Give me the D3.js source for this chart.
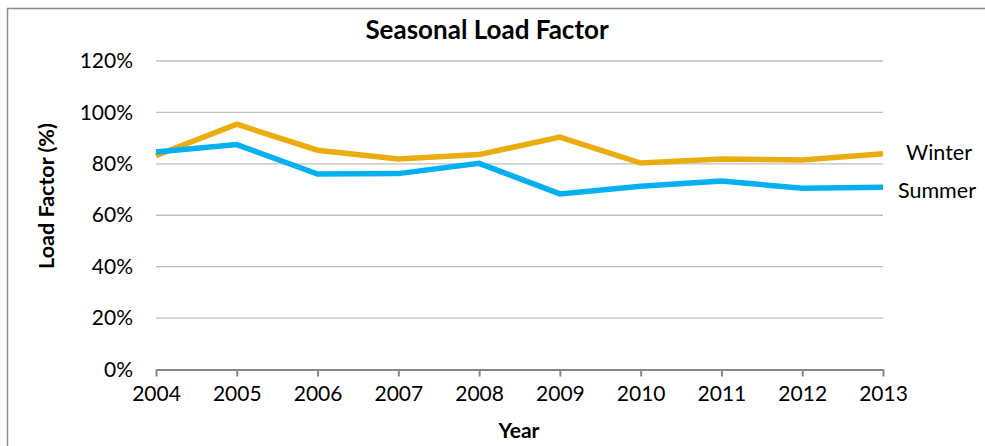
<!DOCTYPE html>
<html>
<head>
<meta charset="utf-8">
<script src="https://cdn.jsdelivr.net/npm/d3@7"></script>
<style>
  html, body { margin: 0; padding: 0; background: #fff; }
  svg { display: block; font-family: Lato, "Open Sans", sans-serif; }
</style>
</head>
<body>
<svg id="chart" width="985" height="446"></svg>
<script>
// Seasonal load factor by year
const years = [2004, 2005, 2006, 2007, 2008, 2009, 2010, 2011, 2012, 2013];
const winter = [83.2, 95.4, 85.3, 81.9, 83.6, 90.4, 80.3, 81.9, 81.5, 83.9];
const summer = [84.6, 87.5, 76.0, 76.2, 80.2, 68.3, 71.3, 73.3, 70.5, 70.9];
const yTicks = [0, 20, 40, 60, 80, 100, 120];

const series = [
  { name: "Winter", values: winter, color: "#EBAC0E" },
  { name: "Summer", values: summer, color: "#00B0F0" }
];

const svg = d3.select("#chart");
const margin = { left: 156, right: 102, top: 61, bottom: 76.5 };
const W = 985, H = 446;

const x = d3.scalePoint().domain(years).range([margin.left, W - margin.right]);
const y = d3.scaleLinear().domain([0, 120]).range([H - margin.bottom, margin.top]);

// outer frame
svg.append("rect")
  .attr("x", 7.5).attr("y", 8.5)
  .attr("width", W + 20).attr("height", H + 20)
  .attr("fill", "none").attr("stroke", "#8c8c8c").attr("stroke-width", 1.5);

// horizontal gridlines
svg.append("g")
  .selectAll("line")
  .data(yTicks.filter(d => d > 0))
  .join("line")
  .attr("x1", margin.left).attr("x2", W - margin.right)
  .attr("y1", d => y(d)).attr("y2", d => y(d))
  .attr("stroke", "#bfbfbf").attr("stroke-width", 1.3);

// y axis labels
const yAxis = d3.axisLeft(y).tickValues(yTicks).tickFormat(d => d + "%").tickSize(0).tickPadding(23);
svg.append("g")
  .attr("transform", `translate(${margin.left},0)`)
  .call(yAxis)
  .call(g => g.select(".domain").remove())
  .call(g => g.selectAll("text")
    .attr("font-family", "Lato, 'Open Sans', sans-serif")
    .attr("font-size", 21).attr("fill", "#000"));

// x axis
const xAxis = d3.axisBottom(x).tickSizeInner(7).tickSizeOuter(0).tickPadding(10);
svg.append("g")
  .attr("transform", `translate(0,${y(0)})`)
  .call(xAxis)
  .call(g => g.select(".domain").attr("stroke", "#868686").attr("stroke-width", 2))
  .call(g => g.selectAll(".tick line").attr("stroke", "#868686").attr("stroke-width", 2))
  .call(g => g.selectAll("text")
    .attr("font-family", "Lato, 'Open Sans', sans-serif")
    .attr("font-size", 21).attr("fill", "#000"));

// series lines
const line = d3.line()
  .x((d, i) => x(years[i]))
  .y(d => y(d));

svg.append("g")
  .selectAll("path")
  .data(series)
  .join("path")
  .attr("d", s => line(s.values))
  .attr("fill", "none")
  .attr("stroke", s => s.color)
  .attr("stroke-width", 5.5)
  .attr("stroke-linejoin", "miter");

// series labels at the line ends
const labelPos = { Winter: { dx: 23, dy: -1 }, Summer: { dx: 15, dy: 3 } };
svg.append("g")
  .selectAll("text")
  .data(series)
  .join("text")
  .attr("x", s => x(years[years.length - 1]) + labelPos[s.name].dx)
  .attr("y", s => y(s.values[s.values.length - 1]) + labelPos[s.name].dy)
  .attr("dy", "0.35em")
  .attr("font-size", 21.5)
  .attr("fill", "#000")
  .text(s => s.name);

// titles
svg.append("text")
  .attr("x", 487).attr("y", 39)
  .attr("text-anchor", "middle")
  .attr("font-size", 26).attr("font-weight", "bold")
  .text("Seasonal Load Factor");

svg.append("text")
  .attr("x", 519).attr("y", 438)
  .attr("text-anchor", "middle")
  .attr("font-size", 21).attr("font-weight", "bold")
  .text("Year");

svg.append("text")
  .attr("transform", `translate(54,196) rotate(-90)`)
  .attr("text-anchor", "middle")
  .attr("font-size", 21.5).attr("font-weight", "bold")
  .text("Load Factor (%)");
</script>
</body>
</html>
